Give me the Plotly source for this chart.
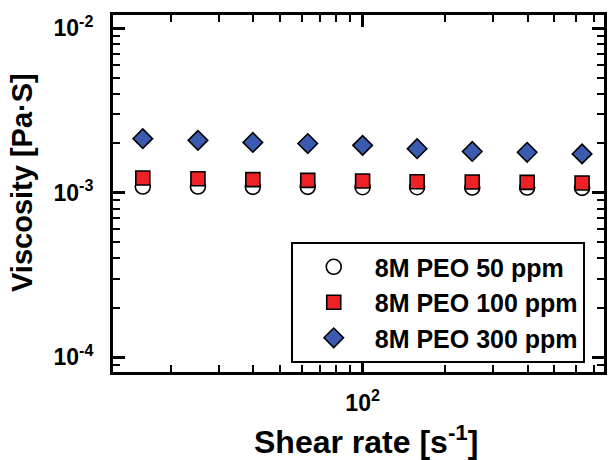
import plotly.graph_objects as go

shear_rate = [15.8, 25.1, 39.8, 63.1, 100, 158, 251, 398, 631]
visc_50 = [1.09e-3, 1.09e-3, 1.085e-3, 1.085e-3, 1.08e-3, 1.08e-3, 1.075e-3, 1.075e-3, 1.07e-3]
visc_100 = [1.228e-3, 1.216e-3, 1.20e-3, 1.188e-3, 1.178e-3, 1.166e-3, 1.162e-3, 1.155e-3, 1.146e-3]
visc_300 = [2.13e-3, 2.08e-3, 2.02e-3, 1.99e-3, 1.94e-3, 1.85e-3, 1.78e-3, 1.76e-3, 1.72e-3]

series_names = ["8M PEO 50 ppm", "8M PEO 100 ppm", "8M PEO 300 ppm"]
x_tickvals = [100]
x_ticktext = ["10<sup>2</sup>"]
y_tickvals = [1e-4, 1e-3, 1e-2]
y_ticktext = ["10<sup>-4</sup>", "10<sup>-3</sup>", "10<sup>-2</sup>"]

FONT = "Liberation Sans, Arial, sans-serif"

fig = go.Figure()
fig.add_trace(go.Scatter(x=shear_rate, y=visc_50, mode="markers", name=series_names[0],
                         marker=dict(symbol="circle", size=15, color="white",
                                     line=dict(color="black", width=1.6))))
fig.add_trace(go.Scatter(x=shear_rate, y=visc_100, mode="markers", name=series_names[1],
                         marker=dict(symbol="square", size=14, color="#ee2226",
                                     line=dict(color="black", width=1.6))))
fig.add_trace(go.Scatter(x=shear_rate, y=visc_300, mode="markers", name=series_names[2],
                         marker=dict(symbol="diamond", size=15, color="#3b5bb0",
                                     line=dict(color="black", width=1.6))))

axis_common = dict(
    type="log", showline=True, linecolor="black", linewidth=3, mirror="allticks",
    ticks="inside", ticklen=12, tickwidth=3, tickcolor="black",
    showgrid=False, zeroline=False,
    tickfont=dict(family=FONT, size=23, color="black", weight="bold"),
    minor=dict(ticks="inside", ticklen=7, tickwidth=2, tickcolor="black", dtick="D1", showgrid=False),
)

fig.update_xaxes(**axis_common, range=[1.09, 2.88], tickvals=x_tickvals, ticktext=x_ticktext,
                 ticklabelstandoff=8)
fig.update_yaxes(**axis_common, range=[-4.09, -1.92], tickvals=y_tickvals, ticktext=y_ticktext,
                 ticklabelstandoff=12)

fig.add_annotation(text="Shear rate [s<sup>-1</sup>]", xref="paper", yref="paper",
                   x=0.515, y=-0.19, xanchor="center", yanchor="middle", showarrow=False,
                   font=dict(family=FONT, size=32, color="black", weight="bold"))
fig.add_annotation(text="Viscosity [Pa·S]", xref="paper", yref="paper",
                   x=-0.185, y=0.53, xanchor="center", yanchor="middle", textangle=-90, showarrow=False,
                   font=dict(family=FONT, size=29, color="black", weight="bold"))

fig.update_layout(
    width=613, height=460,
    margin=dict(l=113, r=6, t=15, b=88),
    paper_bgcolor="white", plot_bgcolor="white",
    showlegend=True,
    legend=dict(x=0.362, y=0.364, xanchor="left", yanchor="top",
                bordercolor="black", borderwidth=2, bgcolor="white",
                font=dict(family=FONT, size=25, color="black", weight="bold"),
                itemwidth=72, tracegroupgap=0),
)

fig.write_html("out.html")
